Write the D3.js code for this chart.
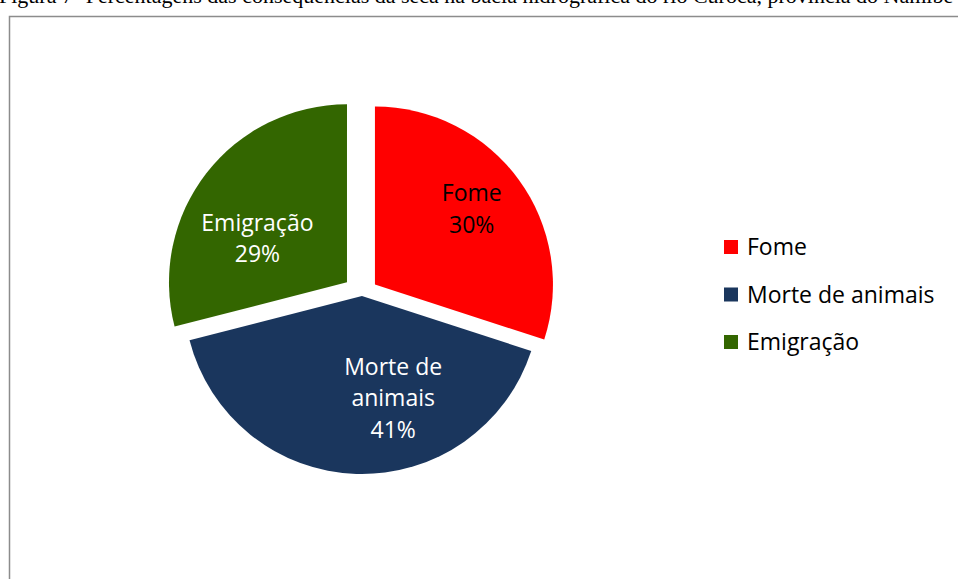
<!DOCTYPE html>
<html>
<head>
<meta charset="utf-8">
<script src="https://cdn.jsdelivr.net/npm/d3@7/dist/d3.min.js"></script>
<style>
  html, body { margin: 0; padding: 0; background: #fff; overflow: hidden; }
  svg { display: block; }
</style>
</head>
<body>
<svg id="chart" width="958" height="579"></svg>
<script>
// Consequências da seca (percentagens)
const categories = ["Fome", "Morte de animais", "Emigração"];
const values = [30, 41, 29];
const labelLines = [["Fome", "30%"], ["Morte de", "animais", "41%"], ["Emigração", "29%"]];
const colors = ["#FF0000", "#1A365D", "#336600"];
const labelColors = ["#000000", "#FFFFFF", "#FFFFFF"];
// distance each slice is pulled out of the pie
const explode = [16, 2, 19];
// label placement: polar offset from the slice apex (degrees, fraction of radius)
const labelAngle = [52, 163, 296];
const labelRadius = [0.69, 0.60, 0.56];

const title = "Figura 7- Percentagens das consequências da seca na bacia hidrográfica do rio Curoca, província do Namibe";

const svg = d3.select("#chart");
const W = 958, H = 579;

// caption above the chart area (partly outside the page)
svg.append("text")
  .attr("x", -1).attr("y", 2.5)
  .attr("font-family", "'Liberation Serif', 'Times New Roman', serif")
  .attr("font-size", 22)
  .attr("fill", "#000")
  .text(title);

// chart frame
svg.append("rect")
  .attr("x", 9.5).attr("y", 16.5)
  .attr("width", W + 20).attr("height", H + 20)
  .attr("fill", "none")
  .attr("stroke", "#8c8c8c")
  .attr("stroke-width", 1.5);

const cx = 362, cy = 294, r = 178;
const pie = d3.pie().sort(null).value(d => d)(values);
const arc = d3.arc().innerRadius(0).outerRadius(r);

const g = svg.append("g").attr("transform", `translate(${cx},${cy})`);

const slices = g.selectAll("g.slice").data(pie).join("g")
  .attr("class", "slice")
  .attr("transform", (d, i) => {
    const mid = (d.startAngle + d.endAngle) / 2;
    return `translate(${explode[i] * Math.sin(mid)},${-explode[i] * Math.cos(mid)})`;
  });

slices.append("path")
  .attr("d", arc)
  .attr("fill", (d, i) => colors[i]);

const font = "'Open Sans', 'Noto Sans', sans-serif";
const fontSize = 23;
const lineH = 31.5;
slices.each(function (d, i) {
  const a = labelAngle[i] * Math.PI / 180;
  const lx = labelRadius[i] * r * Math.sin(a);
  const ly = -labelRadius[i] * r * Math.cos(a);
  const lines = labelLines[i];
  const t = d3.select(this).append("text")
    .attr("text-anchor", "middle")
    .attr("font-family", font)
    .attr("font-size", fontSize)
    .attr("fill", labelColors[i]);
  lines.forEach((s, k) => {
    t.append("tspan")
      .attr("x", lx)
      .attr("y", ly + (k - (lines.length - 1) / 2) * lineH)
      .attr("dy", "0.35em")
      .text(s);
  });
});

// legend
const legY = d3.scalePoint().domain(categories).range([247, 342]);
const leg = svg.append("g").selectAll("g").data(categories).join("g")
  .attr("transform", d => `translate(724,${legY(d)})`);
leg.append("rect")
  .attr("x", 0).attr("y", -7)
  .attr("width", 14).attr("height", 14)
  .attr("fill", (d, i) => colors[i]);
leg.append("text")
  .attr("x", 23).attr("y", 0).attr("dy", "0.35em")
  .attr("font-family", font)
  .attr("font-size", fontSize)
  .attr("fill", "#000")
  .text(d => d);
</script>
</body>
</html>
